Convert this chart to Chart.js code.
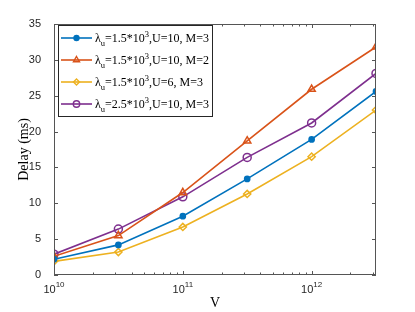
<!DOCTYPE html>
<html>
<head>
<meta charset="utf-8">
<script src="https://cdn.jsdelivr.net/npm/chart.js@4"></script>
<style>
  html, body { margin: 0; padding: 0; background: #fff; }
  #wrap { width: 415px; height: 312px; }
</style>
</head>
<body>
<div id="wrap"><canvas id="chart" width="415" height="312"></canvas></div>
<script>
// data
const vValues = [1e10, 3.16e10, 1e11, 3.16e11, 1e12, 3.16e12];
const delayA = [2.2, 4.2, 8.2, 13.4, 18.9, 25.6];   // lambda 1.5e3, U=10, M=3
const delayB = [2.6, 5.5, 11.5, 18.7, 25.9, 31.8];  // lambda 1.5e3, U=10, M=2
const delayC = [1.9, 3.2, 6.7, 11.3, 16.5, 23.0];   // lambda 1.5e3, U=6, M=3
const delayD = [2.9, 6.4, 10.9, 16.4, 21.2, 28.1];  // lambda 2.5e3, U=10, M=3

const lambdaVals = ['1.5', '1.5', '1.5', '2.5'];
const uVals = ['10', '10', '6', '10'];
const mVals = ['3', '2', '3', '3'];

const xMajorExp = [10, 11, 12];
const yTicks = [0, 5, 10, 15, 20, 25, 30, 35];

const colors = ['#0072BD', '#D95319', '#EDB120', '#7E2F8E'];

function pts(ys) {
    return vValues.map((v, i) => ({ x: v, y: ys[i] }));
}

const series = [delayA, delayB, delayC, delayD];
const styles = [
    { pointStyle: 'circle', radius: 2.6, legendRadius: 2.5, fill: true },
    { pointStyle: 'triangle', radius: 4.2, legendRadius: 3.5, fill: false },
    { pointStyle: 'rectRot', radius: 3.6, legendRadius: 3, fill: false },
    { pointStyle: 'circle', radius: 4, legendRadius: 3.2, fill: false }
];

const datasets = series.map((ys, i) => ({
    label: 'λu=' + lambdaVals[i] + '*10^3,U=' + uVals[i] + ', M=' + mVals[i],
    data: pts(ys),
    borderColor: colors[i],
    backgroundColor: styles[i].fill ? colors[i] : '#fff',
    pointBackgroundColor: styles[i].fill ? colors[i] : 'rgba(0,0,0,0)',
    pointBorderColor: colors[i],
    pointStyle: styles[i].pointStyle,
    pointRadius: styles[i].radius,
    pointBorderWidth: 1.5,
    borderWidth: 1.6,
    tension: 0
}));

// minor ticks for the log axis
const xAllTicks = [];
for (let e = 10; e <= 12; e++) {
    for (let m = 1; m <= 9; m++) {
        const v = m * Math.pow(10, e);
        if (v <= 3.2e12) xAllTicks.push({ v: v, major: m === 1 });
    }
}

const axisColor = '#262626';

const framePlugin = {
    id: 'frame',
    afterDraw(chart) {
        const ctx = chart.ctx;
        const a = chart.chartArea;
        const xs = chart.scales.x;
        const ys = chart.scales.y;
        ctx.save();
        ctx.strokeStyle = '#555';
        ctx.lineWidth = 1;
        ctx.strokeRect(a.left + 0.5, a.top + 0.5, a.right - a.left - 1, a.bottom - a.top - 1);

        // x ticks, inward, top and bottom
        ctx.beginPath();
        xAllTicks.forEach(t => {
            const px = Math.round(xs.getPixelForValue(t.v)) + 0.5;
            if (px < a.left || px > a.right) return;
            const len = t.major ? 4 : 2.5;
            ctx.moveTo(px, a.bottom);
            ctx.lineTo(px, a.bottom - len);
            ctx.moveTo(px, a.top);
            ctx.lineTo(px, a.top + len);
        });
        yTicks.forEach(v => {
            const py = Math.round(ys.getPixelForValue(v)) + 0.5;
            ctx.moveTo(a.left, py);
            ctx.lineTo(a.left + 4, py);
            ctx.moveTo(a.right, py);
            ctx.lineTo(a.right - 4, py);
        });
        ctx.stroke();

        // x labels 10^n
        ctx.fillStyle = axisColor;
        ctx.textBaseline = 'alphabetic';
        xMajorExp.forEach(e => {
            const px = xs.getPixelForValue(Math.pow(10, e));
            ctx.font = '11px "Liberation Sans"';
            const w1 = ctx.measureText('10').width;
            ctx.font = '8px "Liberation Sans"';
            const w2 = ctx.measureText(String(e)).width;
            const x0 = px - (w1 + w2) / 2;
            ctx.font = '11px "Liberation Sans"';
            ctx.textAlign = 'left';
            ctx.fillText('10', x0, a.bottom + 18);
            ctx.font = '8px "Liberation Sans"';
            ctx.fillText(String(e), x0 + w1, a.bottom + 12);
        });

        // legend
        const lx = 58, ly = 25, lw = 154, lh = 91;
        ctx.fillStyle = '#fff';
        ctx.fillRect(lx, ly, lw, lh);
        ctx.strokeStyle = axisColor;
        ctx.lineWidth = 1;
        ctx.strokeRect(lx + 0.5, ly + 0.5, lw, lh);
        const rows = [38, 60, 82, 104];
        chart.data.datasets.forEach((ds, i) => {
            const y = rows[i];
            ctx.strokeStyle = ds.borderColor;
            ctx.lineWidth = 1.6;
            ctx.beginPath();
            ctx.moveTo(61, y);
            ctx.lineTo(92, y);
            ctx.stroke();
            ctx.lineWidth = 1.4;
            ctx.fillStyle = ds.pointBackgroundColor;
            ctx.strokeStyle = ds.pointBorderColor;
            Chart.helpers.drawPoint(ctx, {
                pointStyle: ds.pointStyle,
                radius: styles[i].legendRadius,
                borderWidth: 1.4,
                rotation: 0
            }, 76.5, y);

            // text with sub/superscripts
            ctx.fillStyle = '#000';
            ctx.textAlign = 'left';
            let x = 95;
            const big = '12px "Liberation Serif"';
            const small = '8.5px "Liberation Serif"';
            const parts = [
                ['λ', big, 0],
                ['u', small, 4],
                ['=' + lambdaVals[i] + '*10', big, 0],
                ['3', small, -5],
                [',U=' + uVals[i] + ', M=' + mVals[i], big, 0]
            ];
            parts.forEach(p => {
                ctx.font = p[1];
                ctx.fillText(p[0], x, y + 4 + p[2]);
                x += ctx.measureText(p[0]).width;
            });
        });
        ctx.restore();
    }
};

new Chart(document.getElementById('chart'), {
    type: 'line',
    data: { datasets: datasets },
    options: {
        responsive: false,
        animation: false,
        layout: { padding: { left: 0, right: 39, top: 24, bottom: 0 } },
        plugins: {
            legend: { display: false },
            tooltip: { enabled: false }
        },
        scales: {
            x: {
                type: 'logarithmic',
                min: 1e10,
                max: 3.16e12,
                grid: { display: false },
                border: { display: false },
                ticks: { display: false },
                afterFit(scale) { scale.height = 37; },
                title: {
                    display: true,
                    text: 'V',
                    color: '#000',
                    font: { family: 'Liberation Serif', size: 14 },
                    padding: { top: 0, bottom: 0 }
                }
            },
            y: {
                min: 0,
                max: 35,
                afterBuildTicks(scale) { scale.ticks = yTicks.map(v => ({ value: v })); },
                grid: { display: false },
                border: { display: false },
                ticks: {
                    color: axisColor,
                    font: { family: 'Liberation Sans', size: 11 },
                    padding: 5
                },
                afterFit(scale) { scale.width = 54; },
                title: {
                    display: true,
                    text: 'Delay (ms)',
                    color: '#000',
                    font: { family: 'Liberation Serif', size: 14 },
                    padding: { top: 16, bottom: 0 }
                }
            }
        }
    },
    plugins: [framePlugin]
});
</script>
</body>
</html>
